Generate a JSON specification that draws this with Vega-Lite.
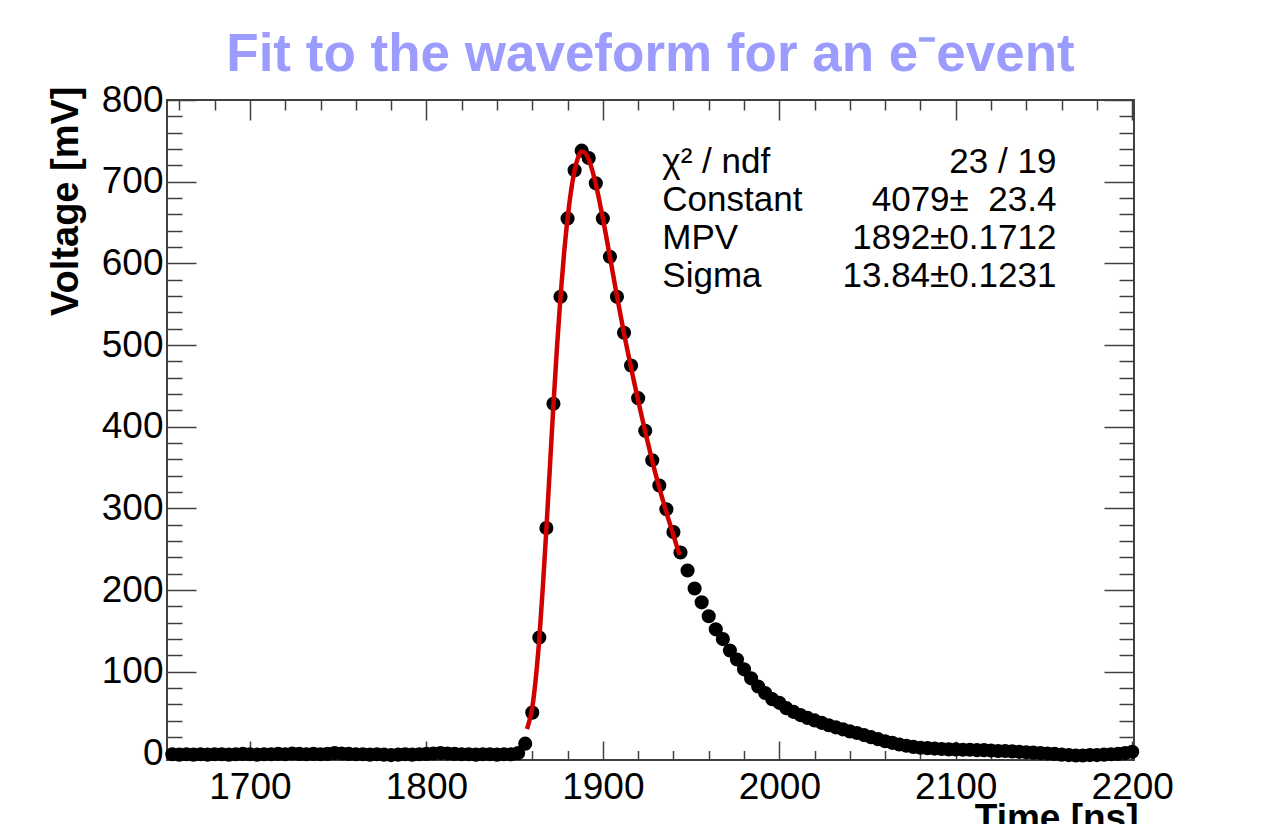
{
  "$schema": "https://vega.github.io/schema/vega-lite/v6.json",
  "width": 967,
  "height": 660,
  "autosize": {"type": "none"},
  "padding": {"left": 167, "top": 100, "right": 131, "bottom": 64},
  "background": "white",
  "title": {
    "text": "Fit to the waveform for an e⁻event",
    "anchor": "middle",
    "frame": "group",
    "font": "Liberation Sans",
    "fontSize": 53,
    "fontWeight": "bold",
    "color": "#9c9cff",
    "baseline": "alphabetic",
    "offset": 10.5,
    "dy": 53
  },
  "datasets": {
    "pts": [
      {"t":1656,"v":-1},{"t":1660,"v":-1.5},{"t":1664,"v":-1},{"t":1668,"v":-1.5},{"t":1672,"v":-1},{"t":1676,"v":-1.5},{"t":1680,"v":-1},{"t":1684,"v":-1},{"t":1688,"v":-1.5},{"t":1692,"v":-1},
      {"t":1696,"v":-0.5},{"t":1700,"v":-1},{"t":1704,"v":-1.5},{"t":1708,"v":-1},{"t":1712,"v":-1},{"t":1716,"v":-0.5},{"t":1720,"v":-1},{"t":1724,"v":0},{"t":1728,"v":-0.5},{"t":1732,"v":-1},
      {"t":1736,"v":-0.5},{"t":1740,"v":-1},{"t":1744,"v":-0.5},{"t":1748,"v":0.5},{"t":1752,"v":0},{"t":1756,"v":-0.5},{"t":1760,"v":-1},{"t":1764,"v":-1},{"t":1768,"v":-1.5},{"t":1772,"v":-1},
      {"t":1776,"v":-1.5},{"t":1780,"v":-2},{"t":1784,"v":-1.5},{"t":1788,"v":-1},{"t":1792,"v":-1.5},{"t":1796,"v":-1},{"t":1800,"v":-0.5},{"t":1804,"v":0},{"t":1808,"v":0.5},{"t":1812,"v":0},
      {"t":1816,"v":-0.5},{"t":1820,"v":-1},{"t":1824,"v":-1},{"t":1828,"v":-1.5},{"t":1832,"v":-1},{"t":1836,"v":-1},{"t":1840,"v":-1.5},{"t":1844,"v":-1},{"t":1848,"v":-1},{"t":1852,"v":0.5},
      {"t":1856,"v":12},{"t":1860,"v":50},{"t":1864,"v":142},{"t":1868,"v":276},{"t":1872,"v":428},{"t":1876,"v":559},{"t":1880,"v":655},{"t":1884,"v":714},{"t":1888,"v":738},{"t":1892,"v":729},
      {"t":1896,"v":698},{"t":1900,"v":655},{"t":1904,"v":608},{"t":1908,"v":559},{"t":1912,"v":515},{"t":1916,"v":475},{"t":1920,"v":435},{"t":1924,"v":395},{"t":1928,"v":359},{"t":1932,"v":328},
      {"t":1936,"v":299},{"t":1940,"v":271},{"t":1944,"v":246},{"t":1948,"v":224},{"t":1952,"v":202},{"t":1956,"v":185},{"t":1960,"v":168},{"t":1964,"v":152},{"t":1968,"v":140},{"t":1972,"v":126},
      {"t":1976,"v":115},{"t":1980,"v":103},{"t":1984,"v":92},{"t":1988,"v":82},{"t":1992,"v":74},{"t":1996,"v":66.5},{"t":2000,"v":62},{"t":2004,"v":55.5},{"t":2008,"v":51},{"t":2012,"v":47},
      {"t":2016,"v":43.5},{"t":2020,"v":40.5},{"t":2024,"v":37.5},{"t":2028,"v":34.5},{"t":2032,"v":32},{"t":2036,"v":29.5},{"t":2040,"v":27},{"t":2044,"v":25},{"t":2048,"v":22.5},{"t":2052,"v":20},
      {"t":2056,"v":17.5},{"t":2060,"v":15},{"t":2064,"v":13},{"t":2068,"v":11},{"t":2072,"v":9.5},{"t":2076,"v":8},{"t":2080,"v":7},{"t":2084,"v":6.5},{"t":2088,"v":6},{"t":2092,"v":5.5},
      {"t":2096,"v":5},{"t":2100,"v":5},{"t":2104,"v":4.5},{"t":2108,"v":4.5},{"t":2112,"v":4},{"t":2116,"v":4},{"t":2120,"v":3.5},{"t":2124,"v":3},{"t":2128,"v":3},{"t":2132,"v":2.5},
      {"t":2136,"v":2},{"t":2140,"v":1.5},{"t":2144,"v":1},{"t":2148,"v":0.5},{"t":2152,"v":0},{"t":2156,"v":-0.5},{"t":2160,"v":-1.5},{"t":2164,"v":-2},{"t":2168,"v":-2.5},{"t":2172,"v":-2.5},
      {"t":2176,"v":-2},{"t":2180,"v":-2},{"t":2184,"v":-1.5},{"t":2188,"v":-1},{"t":2192,"v":-0.5},{"t":2196,"v":0.5},{"t":2200,"v":2}
    ],
    "fit": [
      {"t":1857,"v":30},{"t":1858,"v":37},{"t":1860,"v":56},{"t":1862,"v":92},{"t":1864,"v":141},{"t":1866,"v":204},{"t":1868,"v":275},{"t":1870,"v":351},{"t":1872,"v":427},{"t":1874,"v":497},
      {"t":1876,"v":559},{"t":1878,"v":612},{"t":1880,"v":655},{"t":1882,"v":689},{"t":1884,"v":714},{"t":1886,"v":730},{"t":1888,"v":737},{"t":1890,"v":735},{"t":1892,"v":727},{"t":1894,"v":714},
      {"t":1896,"v":697},{"t":1898,"v":677},{"t":1900,"v":655},{"t":1902,"v":632},{"t":1904,"v":608},{"t":1906,"v":584},{"t":1908,"v":560},{"t":1910,"v":537},{"t":1912,"v":514},{"t":1914,"v":493},
      {"t":1916,"v":472},{"t":1918,"v":452},{"t":1920,"v":432},{"t":1922,"v":413},{"t":1924,"v":394},{"t":1926,"v":376},{"t":1928,"v":358},{"t":1930,"v":341},{"t":1932,"v":325},{"t":1934,"v":310},
      {"t":1936,"v":295},{"t":1938,"v":281},{"t":1940,"v":267},{"t":1942,"v":253},{"t":1943.5,"v":243}
    ],
    "stats": [
      {"param":"χ² / ndf","value":"23 / 19"},
      {"param":"Constant","value":"4079±\u00a0\u00a023.4"},
      {"param":"MPV","value":"1892±0.1712"},
      {"param":"Sigma","value":"13.84±0.1231"}
    ]
  },
  "config": {
    "view": {"stroke": "#404040", "strokeWidth": 2},
    "axis": {
      "domain": false,
      "grid": false,
      "tickColor": "#404040",
      "tickWidth": 1.5,
      "labelFont": "Liberation Sans",
      "labelColor": "#000000",
      "titleFont": "Liberation Sans",
      "titleColor": "#000000"
    }
  },
  "layer": [
    {
      "layer": [
        {
          "data": {"name": "pts"},
          "mark": {"type": "point", "opacity": 0},
          "encoding": {
            "x": {"field": "t", "type": "quantitative", "scale": {"domain": [1653, 2201], "nice": false, "zero": false},
              "axis": {"orient": "bottom", "values": [1700, 1800, 1900, 2000, 2100, 2200], "format": "d", "ticks": false,
                "labelFontSize": 37, "labelPadding": 9, "labelFlush": false, "labelOverlap": false,
                "title": "Time [ns]", "titleFontSize": 37, "titleFontWeight": "bold", "titleAlign": "right",
                "titleBaseline": "alphabetic", "titleAnchor": "end", "titleX": 971, "titleY": 69}},
            "y": {"field": "v", "type": "quantitative", "scale": {"domain": [-8, 800], "nice": false, "zero": false},
              "axis": {"orient": "left", "values": [0, 100, 200, 300, 400, 500, 600, 700, 800], "format": "d", "ticks": false,
                "labelFontSize": 37, "labelPadding": 4, "labelFlush": false, "labelOverlap": false,
                "title": "Voltage [mV]", "titleFontSize": 38, "titleFontWeight": "bold", "titleAngle": 270,
                "titleAlign": "right", "titleBaseline": "alphabetic", "titleAnchor": "end", "titleX": -90, "titleY": -14}}
          }
        },
        {
          "data": {"name": "pts"},
          "mark": {"type": "point", "opacity": 0},
          "encoding": {
            "x": {"field": "t", "type": "quantitative", "scale": {"domain": [1653, 2201], "nice": false, "zero": false},
              "axis": {"orient": "bottom", "values": [1700, 1800, 1900, 2000, 2100, 2200], "labels": false, "tickSize": 19, "offset": -19, "title": null}},
            "y": {"field": "v", "type": "quantitative", "scale": {"domain": [-8, 800], "nice": false, "zero": false},
              "axis": {"orient": "left", "values": [0, 100, 200, 300, 400, 500, 600, 700, 800], "labels": false, "tickSize": 29, "offset": -29, "title": null}}
          }
        },
        {
          "data": {"name": "pts"},
          "mark": {"type": "point", "opacity": 0},
          "encoding": {
            "x": {"field": "t", "type": "quantitative", "scale": {"domain": [1653, 2201], "nice": false, "zero": false},
              "axis": {"orient": "bottom", "values": [1660,1680,1720,1740,1760,1780,1820,1840,1860,1880,1920,1940,1960,1980,2020,2040,2060,2080,2120,2140,2160,2180], "labels": false, "tickSize": 9.5, "offset": -9.5, "title": null}},
            "y": {"field": "v", "type": "quantitative", "scale": {"domain": [-8, 800], "nice": false, "zero": false},
              "axis": {"orient": "left", "values": [20,40,60,80,120,140,160,180,220,240,260,280,320,340,360,380,420,440,460,480,520,540,560,580,620,640,660,680,720,740,760,780], "labels": false, "tickSize": 15, "offset": -15, "title": null}}
          }
        },
        {
          "data": {"name": "pts"},
          "mark": {"type": "point", "opacity": 0},
          "encoding": {
            "x": {"field": "t", "type": "quantitative", "scale": {"domain": [1653, 2201], "nice": false, "zero": false},
              "axis": {"orient": "top", "values": [1700, 1800, 1900, 2000, 2100, 2200], "labels": false, "tickSize": 20, "offset": -20, "title": null}},
            "y": {"field": "v", "type": "quantitative", "scale": {"domain": [-8, 800], "nice": false, "zero": false},
              "axis": {"orient": "right", "values": [0, 100, 200, 300, 400, 500, 600, 700, 800], "labels": false, "tickSize": 30, "offset": -30, "title": null}}
          }
        },
        {
          "data": {"name": "pts"},
          "mark": {"type": "point", "opacity": 0},
          "encoding": {
            "x": {"field": "t", "type": "quantitative", "scale": {"domain": [1653, 2201], "nice": false, "zero": false},
              "axis": {"orient": "top", "values": [1660,1680,1720,1740,1760,1780,1820,1840,1860,1880,1920,1940,1960,1980,2020,2040,2060,2080,2120,2140,2160,2180], "labels": false, "tickSize": 10, "offset": -10, "title": null}},
            "y": {"field": "v", "type": "quantitative", "scale": {"domain": [-8, 800], "nice": false, "zero": false},
              "axis": {"orient": "right", "values": [20,40,60,80,120,140,160,180,220,240,260,280,320,340,360,380,420,440,460,480,520,540,560,580,620,640,660,680,720,740,760,780], "labels": false, "tickSize": 15, "offset": -15, "title": null}}
          }
        },
        {
          "data": {"name": "pts"},
          "mark": {"type": "circle", "color": "#000000", "size": 200, "opacity": 1},
          "encoding": {
            "x": {"field": "t", "type": "quantitative", "scale": {"domain": [1653, 2201], "nice": false, "zero": false}, "axis": null},
            "y": {"field": "v", "type": "quantitative", "scale": {"domain": [-8, 800], "nice": false, "zero": false}, "axis": null}
          }
        },
        {
          "data": {"name": "fit"},
          "mark": {"type": "line", "color": "#d00000", "strokeWidth": 4.5, "interpolate": "monotone"},
          "encoding": {
            "x": {"field": "t", "type": "quantitative", "scale": {"domain": [1653, 2201], "nice": false, "zero": false}, "axis": null},
            "y": {"field": "v", "type": "quantitative", "scale": {"domain": [-8, 800], "nice": false, "zero": false}, "axis": null}
          }
        }
      ],
      "resolve": {"axis": {"x": "independent", "y": "independent"}}
    },
    {
      "data": {"name": "stats"},
      "layer": [
        {
          "mark": {"type": "text", "align": "left", "baseline": "alphabetic", "font": "Liberation Sans", "fontSize": 35, "color": "#000000"},
          "encoding": {
            "x": {"datum": 1933.7, "type": "quantitative", "scale": {"domain": [1653, 2201], "nice": false, "zero": false}, "axis": null},
            "y": {"field": "param", "type": "ordinal", "sort": null, "scale": {"type": "point", "range": [73, 187], "padding": 0}, "axis": null},
            "text": {"field": "param"}
          }
        },
        {
          "mark": {"type": "text", "align": "right", "baseline": "alphabetic", "font": "Liberation Sans", "fontSize": 35, "color": "#000000"},
          "encoding": {
            "x": {"datum": 2157, "type": "quantitative", "scale": {"domain": [1653, 2201], "nice": false, "zero": false}, "axis": null},
            "y": {"field": "param", "type": "ordinal", "sort": null, "scale": {"type": "point", "range": [73, 187], "padding": 0}, "axis": null},
            "text": {"field": "value"}
          }
        }
      ]
    }
  ],
  "resolve": {"scale": {"y": "independent"}, "axis": {"x": "independent", "y": "independent"}}
}
